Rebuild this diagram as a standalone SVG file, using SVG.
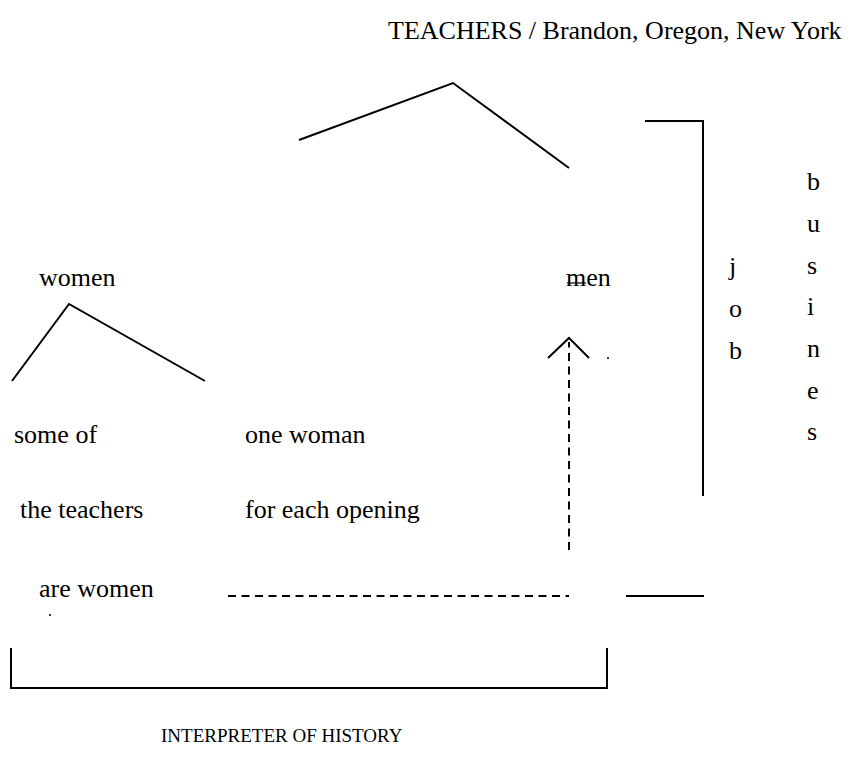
<svg xmlns="http://www.w3.org/2000/svg" width="855" height="774" viewBox="0 0 855 774">
<style>
text{font-family:"Liberation Serif","Times New Roman",serif;font-size:26px;fill:#000}
text.s{font-size:19px}
.l{stroke:#000;stroke-width:2;fill:none}
.d{stroke:#000;stroke-width:2;fill:none;stroke-dasharray:8,5.5}
</style>
<rect width="855" height="774" fill="#fff"/>
<g id="title"><text x="388" y="39">TEACHERS / Brandon, Oregon, New York</text></g>
<g id="women"><text x="39" y="286">women</text></g>
<g id="men"><text x="566" y="286">men</text></g>
<g id="job"><text x="729" y="275">j</text><text x="729" y="317">o</text><text x="729" y="359">b</text></g>
<g id="business"><text x="807" y="190">b</text><text x="807" y="232">u</text><text x="807" y="274">s</text><text x="807" y="315">i</text><text x="807" y="357">n</text><text x="807" y="399">e</text><text x="807" y="440">s</text></g>
<g id="some"><text x="14" y="443">some of</text><text x="20" y="518">the teachers</text><text x="39" y="597">are women</text></g>
<g id="onewoman"><text x="245" y="443">one woman</text><text x="245" y="518">for each opening</text></g>
<g id="interpreter"><text class="s" x="161" y="742">INTERPRETER OF HISTORY</text></g>
<g id="connectors">
<polyline class="l" points="299,140 453,83 569,168"/>
<polyline class="l" points="12,381 69,304 205,381"/>
<line class="d" x1="569" y1="550" x2="569" y2="342"/>
<polyline class="l" points="548,358 569,338 589,358"/>
<circle cx="608" cy="358" r="1"/>
<line stroke="#000" stroke-width="1.2" x1="567" y1="283" x2="586" y2="283"/>
<polyline class="l" points="645,121 703,121 703,496"/>
<line class="l" x1="626" y1="596" x2="704" y2="596"/>
<line class="d" x1="228" y1="596" x2="569" y2="596"/>
<polyline class="l" points="11,648 11,688 607,688 607,648"/>
<circle cx="50" cy="615" r="1"/>
</g>
</svg>
